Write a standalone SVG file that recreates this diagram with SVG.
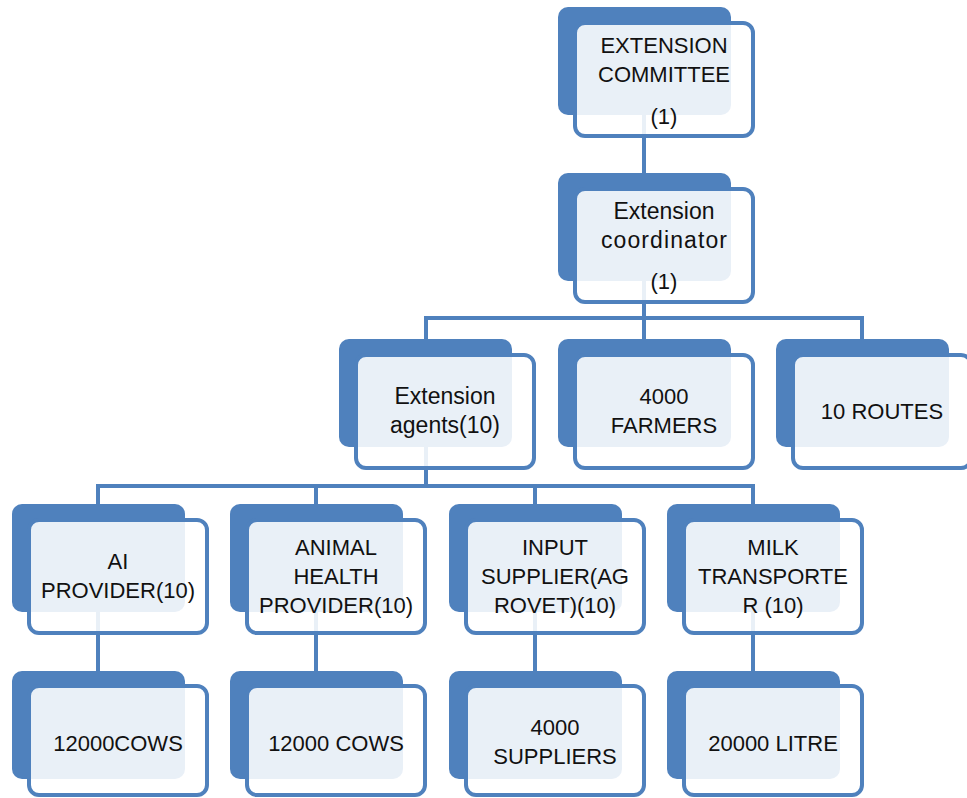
<svg xmlns="http://www.w3.org/2000/svg" width="967" height="798" viewBox="0 0 967 798">
<style>
.bk{fill:#4F81BD;}
.fr{fill:#FFFFFF;fill-opacity:0.88;stroke:#4F81BD;stroke-width:4;}
.t{font-family:"Liberation Sans",Arial,sans-serif;font-size:22px;fill:#111111;text-anchor:middle;}
.lc{font-size:23px;}
.cn{fill:none;stroke:#4F81BD;stroke-width:4;}
</style>
<rect width="967" height="798" fill="#FFFFFF"/>
<g id="connectors">
<path class="cn" d="M644,60 V190"/>
<path class="cn" d="M644,230 V318 M426,339 V318 H862 V339 M644,318 V339"/>
<path class="cn" d="M426,390 V486 M98,504 V486 H753 V504 M316,486 V504 M535,486 V504"/>
<path class="cn" d="M98,560 V671 M316,560 V671 M535,560 V671 M753,560 V671"/>
</g>
<g id="n1">
<rect class="bk" x="558" y="7" width="173" height="108" rx="10"/>
<rect class="fr" x="575" y="23" width="178" height="113" rx="10"/>
<text class="t" x="664" y="53">EXTENSION</text>
<text class="t" x="664" y="82">COMMITTEE</text>
<text class="t" x="664" y="124">(1)</text>
</g>
<g id="n2">
<rect class="bk" x="558" y="173" width="173" height="108" rx="10"/>
<rect class="fr" x="575" y="189" width="178" height="113" rx="10"/>
<text class="t lc" x="664" y="219">Extension</text>
<text class="t lc" x="664" y="248" textLength="126" lengthAdjust="spacing">coordinator</text>
<text class="t" x="664" y="289">(1)</text>
</g>
<g id="n3">
<rect class="bk" x="339" y="339" width="173" height="108" rx="10"/>
<rect class="fr" x="356" y="355" width="178" height="113" rx="10"/>
<text class="t lc" x="445" y="404">Extension</text>
<text class="t lc" x="445" y="433">agents(10)</text>
</g>
<g id="n4">
<rect class="bk" x="558" y="339" width="173" height="108" rx="10"/>
<rect class="fr" x="575" y="355" width="178" height="113" rx="10"/>
<text class="t" x="664" y="404">4000</text>
<text class="t" x="664" y="433">FARMERS</text>
</g>
<g id="n5">
<rect class="bk" x="776" y="339" width="173" height="108" rx="10"/>
<rect class="fr" x="793" y="355" width="178" height="113" rx="10"/>
<text class="t" x="882" y="419">10 ROUTES</text>
</g>
<g id="n6">
<rect class="bk" x="12" y="504" width="173" height="108" rx="10"/>
<rect class="fr" x="29" y="520" width="178" height="113" rx="10"/>
<text class="t" x="118" y="569">AI</text>
<text class="t" x="118" y="598">PROVIDER(10)</text>
</g>
<g id="n7">
<rect class="bk" x="230" y="504" width="173" height="108" rx="10"/>
<rect class="fr" x="247" y="520" width="178" height="113" rx="10"/>
<text class="t" x="336" y="555">ANIMAL</text>
<text class="t" x="336" y="584">HEALTH</text>
<text class="t" x="336" y="613">PROVIDER(10)</text>
</g>
<g id="n8">
<rect class="bk" x="449" y="504" width="173" height="108" rx="10"/>
<rect class="fr" x="466" y="520" width="178" height="113" rx="10"/>
<text class="t" x="555" y="555">INPUT</text>
<text class="t" x="555" y="584">SUPPLIER(AG</text>
<text class="t" x="555" y="613">ROVET)(10)</text>
</g>
<g id="n9">
<rect class="bk" x="667" y="504" width="173" height="108" rx="10"/>
<rect class="fr" x="684" y="520" width="178" height="113" rx="10"/>
<text class="t" x="773" y="555">MILK</text>
<text class="t" x="773" y="584">TRANSPORTE</text>
<text class="t" x="773" y="613">R (10)</text>
</g>
<g id="n10">
<rect class="bk" x="12" y="671" width="173" height="108" rx="10"/>
<rect class="fr" x="29" y="686" width="178" height="109" rx="10"/>
<text class="t" x="118" y="751">12000COWS</text>
</g>
<g id="n11">
<rect class="bk" x="230" y="671" width="173" height="108" rx="10"/>
<rect class="fr" x="247" y="686" width="178" height="109" rx="10"/>
<text class="t" x="336" y="751">12000 COWS</text>
</g>
<g id="n12">
<rect class="bk" x="449" y="671" width="173" height="108" rx="10"/>
<rect class="fr" x="466" y="686" width="178" height="109" rx="10"/>
<text class="t" x="555" y="735">4000</text>
<text class="t" x="555" y="764">SUPPLIERS</text>
</g>
<g id="n13">
<rect class="bk" x="667" y="671" width="173" height="108" rx="10"/>
<rect class="fr" x="684" y="686" width="178" height="109" rx="10"/>
<text class="t" x="773" y="751">20000 LITRE</text>
</g>
</svg>
